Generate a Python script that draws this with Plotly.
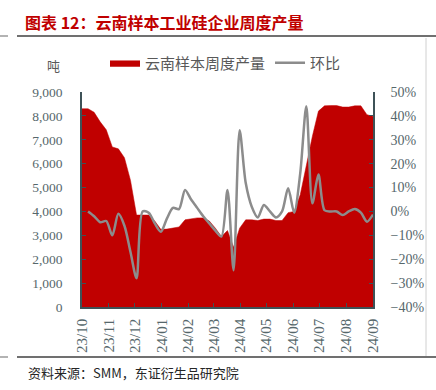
import pandas as pd
import plotly.graph_objects as go

# ---- data ----
weeks = pd.date_range("2023-10-01", periods=49, freq="7D")
output_t = [8300, 8300, 8150, 7750, 7420, 6700, 6620, 6250, 5300, 3850,
            3850, 3850, 3600, 3250, 3260, 3300, 3350, 3650, 3700, 3730,
            3730, 3600, 3300, 2950, 3200, 2500, 3300, 3650, 3650, 3620,
            3680, 3680, 3620, 3620, 3950, 4000, 4700, 6000, 7150, 8200,
            8420, 8430, 8430, 8370, 8370, 8420, 8420, 8050, 7980]
wow_pct = [None, 0.0, -2.0, -4.5, -4.0, -10.0, -1.0, -6.0, -17.0, -28.0,
           0.0, -0.5, -5.0, -8.5, -3.0, 1.5, 1.0, 9.0, 5.0, 1.5,
           -2.0, -5.0, -8.0, -10.5, 9.0, -24.6, 34.0, 12.0, 2.0, -2.5,
           2.7, 0.0, -2.5, 0.0, 9.7, -0.5, 16.0, 44.0, 3.4, 15.5,
           0.5, 0.0, 0.0, -1.5, 0.0, 1.0, -0.5, -4.3, -1.3]
wow = [None if v is None else v / 100 for v in wow_pct]
month_ticks = pd.date_range("2023-10-01", "2024-09-01", freq="MS")
month_labels = [d.strftime("%y/%m") for d in month_ticks]

name_area = "云南样本周度产量"
name_line = "环比"
title_text = "图表 12：云南样本工业硅企业周度产量"
unit_text = "吨"
source_text = "资料来源：SMM，东证衍生品研究院"

# ---- layout geometry ----
W, H = 436, 390
L, R, T, B = 82, 373, 92, 307
def px(x):
    return (x - L) / (R - L)
def py(y):
    return (B - y) / (B - T)

RED = "#C00000"
GREY_LINE = "#8C8C8C"
AXIS = "#3E5257"
TICKTXT = "#56676B"
SERIF = "'Liberation Serif', 'Times New Roman', serif"
CJK = "'Noto Sans CJK SC', sans-serif"

fig = go.Figure()
fig.add_trace(go.Scatter(
    x=weeks, y=output_t, name=name_area, mode="lines",
    fill="tozeroy", fillcolor=RED, line=dict(color=RED, width=0.5),
    yaxis="y"))
fig.add_trace(go.Scatter(
    x=weeks, y=wow, name=name_line, mode="lines",
    line=dict(color=GREY_LINE, width=2.5, shape="spline", smoothing=0.8),
    yaxis="y2"))

fig.update_layout(
    width=W, height=H,
    margin=dict(l=L, r=W - R, t=T, b=H - B, pad=0, autoexpand=False),
    paper_bgcolor="white", plot_bgcolor="white",
    showlegend=True,
    legend=dict(orientation="h", xref="container", yref="container",
                x=105 / W, y=1 - 63 / H, xanchor="left", yanchor="middle",
                font=dict(family=CJK, size=15, color="#595959"),
                bgcolor="rgba(0,0,0,0)", traceorder="normal"),
    title=dict(text=title_text, xref="container", yref="container",
               x=25 / W, y=1 - 23 / H, xanchor="left", yanchor="middle",
               font=dict(family=CJK, size=16, color=RED, weight="bold")),
    xaxis=dict(type="date", range=[weeks[0], weeks[-1]],
               tickvals=month_ticks, ticktext=month_labels, tickangle=-90,
               ticks="inside", ticklen=4, tickcolor=AXIS, showline=True,
               linecolor=AXIS, linewidth=1.5, showgrid=False, zeroline=False,
               tickfont=dict(family=SERIF, size=15, color=TICKTXT),
               ticklabelstandoff=4),
    yaxis=dict(range=[0, 9000], dtick=1000, tickformat=",", ticks="inside",
               ticklen=4, tickcolor=AXIS, showline=True, linecolor=AXIS,
               linewidth=1.5, showgrid=False, zeroline=False,
               tickfont=dict(family=SERIF, size=13.5, color=TICKTXT),
               ticklabelstandoff=15),
    yaxis2=dict(range=[-0.4, 0.5], dtick=0.1, tickformat=".0%",
                overlaying="y", side="right", ticks="inside", ticklen=4,
                tickcolor=AXIS, showline=True, linecolor=AXIS, linewidth=1.5,
                showgrid=False, zeroline=False,
                tickfont=dict(family=SERIF, size=14, color=TICKTXT),
                ticklabelstandoff=13),
)

shapes = [
    dict(type="line", xref="paper", yref="paper", x0=px(17), x1=px(436),
         y0=py(36), y1=py(36), line=dict(color="#404040", width=1.5)),
    dict(type="line", xref="paper", yref="paper", x0=px(0), x1=px(8),
         y0=py(36), y1=py(36), line=dict(color="#808080", width=1.2)),
    dict(type="line", xref="paper", yref="paper", x0=px(17), x1=px(436),
         y0=py(357), y1=py(357), line=dict(color="#404040", width=1.5)),
    dict(type="line", xref="paper", yref="paper", x0=px(0), x1=px(8),
         y0=py(357), y1=py(357), line=dict(color="#808080", width=1.2)),
    dict(type="line", xref="paper", yref="paper", x0=px(426), x1=px(426),
         y0=py(38), y1=py(356), line=dict(color="#D0D0D0", width=1)),
]
fig.update_layout(shapes=shapes)

fig.add_annotation(text=unit_text, xref="paper", yref="paper",
                   x=px(53), y=py(66), xanchor="center", yanchor="middle",
                   showarrow=False,
                   font=dict(family=CJK, size=13, color="#595959"))
fig.add_annotation(text=source_text, xref="paper", yref="paper",
                   x=px(26), y=py(372), xanchor="left", yanchor="middle",
                   showarrow=False,
                   font=dict(family=CJK, size=13, color="#262626"))

fig.write_html("out.html", config={"displayModeBar": False},
               post_script="document.body.style.margin='0px';document.body.style.padding='0px';")
